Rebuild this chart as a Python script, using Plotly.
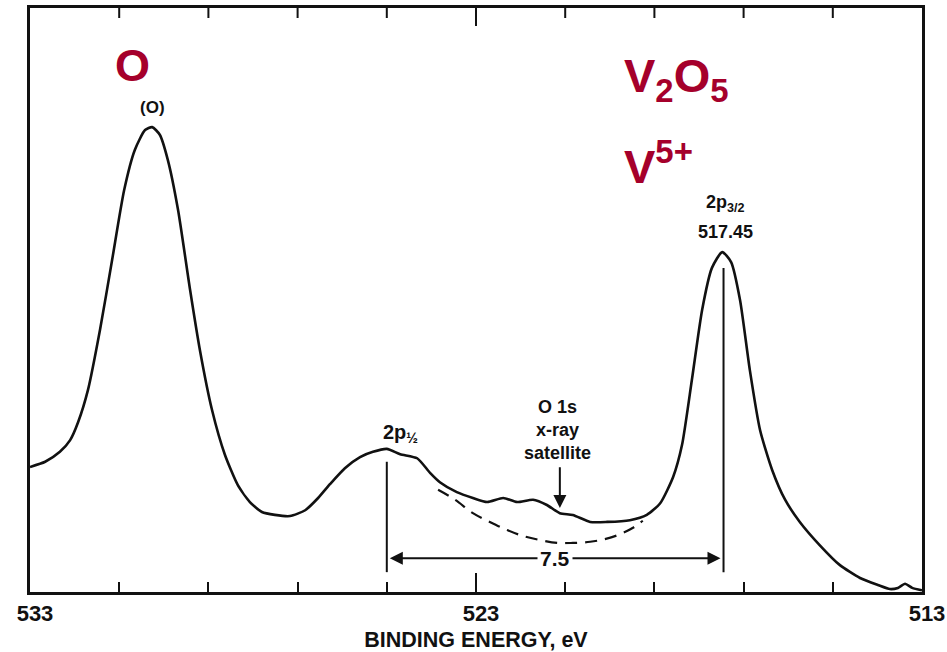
import plotly.graph_objects as go

# V 2p spectrum of V2O5 with the O 1s peak (binding energy in eV, intensity in arbitrary units)
energy = [533.00, 532.66, 532.33, 532.10, 531.92, 531.70, 531.43, 531.16, 530.89, 530.65,
          530.42, 530.26, 530.09, 529.91, 529.68, 529.41, 529.19, 528.92, 528.63, 528.34,
          528.07, 527.80, 527.51, 527.17, 526.83, 526.54, 526.27, 525.94, 525.60, 525.31,
          525.00, 524.70, 524.32, 524.03, 523.81, 523.43, 523.07, 522.75, 522.39, 522.08,
          521.72, 521.41, 521.12, 520.83, 520.44, 520.06, 519.55, 519.17, 518.87, 518.58,
          518.38, 518.16, 517.93, 517.71, 517.48, 517.28, 517.08, 516.86, 516.63, 516.36,
          516.07, 515.74, 515.29, 514.84, 514.39, 513.99, 513.72, 513.54, 513.38, 513.22,
          513.00]
intensity = [21.4, 22.3, 24.0, 26.0, 29.1, 34.6, 44.9, 56.8, 68.8, 75.7,
             79.1, 79.6, 78.3, 74.0, 65.4, 51.7, 41.4, 31.2, 23.5, 18.3,
             15.4, 13.7, 13.2, 13.0, 14.0, 16.1, 18.5, 21.2, 23.1, 24.0,
             24.5, 23.6, 22.9, 20.4, 18.8, 17.1, 16.1, 15.4, 16.1, 15.4,
             15.8, 14.9, 13.5, 13.2, 12.0, 12.0, 12.3, 13.2, 15.2, 19.7,
             25.2, 36.3, 48.3, 55.5, 58.2, 56.5, 50.0, 38.0, 27.7, 20.9,
             15.8, 12.0, 8.0, 4.6, 2.4, 1.2, 0.5, 0.7, 1.4, 0.7,
             0.3]

# background under the O 1s x-ray satellite (dashed)
bg_energy = [523.85, 523.47, 523.07, 522.69, 522.30, 521.95, 521.57, 521.18, 520.83,
             520.44, 520.09, 519.77, 519.48, 519.26]
bg_intensity = [17.5, 15.8, 13.5, 12.0, 10.6, 9.6, 8.9, 8.4, 8.4,
                8.6, 9.1, 9.9, 11.0, 12.2]

peak_2p12 = 525.00
peak_2p32 = 517.45
satellite = 521.12
o1s_peak = 530.26

tick_vals = [533, 523, 513]
tick_text = ["<b>533</b>", "<b>523</b>", "<b>513</b>"]
minor_tick_vals = [531, 529, 527, 525, 521, 519, 517, 515]
satellite_lines = ["O 1s", "x-ray", "satellite"]

INK = "#111111"
RED = "#A5002B"
FONT = "Liberation Sans, Arial, sans-serif"

W, H = 947, 652
MARGIN = dict(l=30, r=25, t=8, b=60)
plot_h = H - MARGIN["t"] - MARGIN["b"]
Y_TOP = 100.0
MAJOR_LEN, MINOR_LEN = 19, 10

fig = go.Figure()
fig.add_trace(go.Scatter(x=energy, y=intensity, mode="lines",
                         line=dict(color=INK, width=2.6, shape="spline", smoothing=0.6),
                         hoverinfo="skip"))
fig.add_trace(go.Scatter(x=bg_energy, y=bg_intensity, mode="lines",
                         line=dict(color=INK, width=2.2, dash="12px,8px", shape="spline"),
                         hoverinfo="skip"))

# tick marks hanging from the top edge of the frame
top_x, top_y = [], []
for v in tick_vals[1:-1]:
    top_x += [v, v, None]
    top_y += [Y_TOP, Y_TOP - (MAJOR_LEN - 1) * Y_TOP / plot_h, None]
for v in minor_tick_vals:
    top_x += [v, v, None]
    top_y += [Y_TOP, Y_TOP - MINOR_LEN * Y_TOP / plot_h, None]
fig.add_trace(go.Scatter(x=top_x, y=top_y, mode="lines", line=dict(color=INK, width=2),
                         hoverinfo="skip", cliponaxis=False))

# vertical markers at the two 2p peaks
fig.add_shape(type="line", x0=peak_2p12, x1=peak_2p12, y0=3.4, y1=22.3,
              line=dict(color=INK, width=2))
fig.add_shape(type="line", x0=peak_2p32, x1=peak_2p32, y0=3.4, y1=55.5,
              line=dict(color=INK, width=2))

# spin-orbit splitting dimension arrow
split = peak_2p12 - peak_2p32
mid = (peak_2p12 + peak_2p32) / 2
for head in [peak_2p12, peak_2p32]:
    fig.add_annotation(x=head, y=5.8, ax=mid, ay=5.8, xref="x", yref="y",
                       axref="x", ayref="y", text="", showarrow=True,
                       arrowhead=2, arrowsize=1.3, arrowwidth=2, arrowcolor=INK,
                       standoff=3)
fig.add_annotation(x=mid, y=5.8, text="<b>%.1f</b>" % split, showarrow=False,
                   bgcolor="white", font=dict(family=FONT, size=21, color=INK),
                   borderpad=2)

# satellite arrow and label
fig.add_annotation(x=satellite, y=14.4, ax=satellite, ay=21.6, xref="x", yref="y",
                   axref="x", ayref="y", text="", showarrow=True,
                   arrowhead=2, arrowsize=1.3, arrowwidth=2, arrowcolor=INK)
for line_text, y in zip(satellite_lines, [31.7, 27.7, 23.8]):
    fig.add_annotation(x=satellite + 0.05, y=y, showarrow=False, text="<b>%s</b>" % line_text,
                       font=dict(family=FONT, size=18, color=INK))

fig.add_annotation(x=524.70, y=27.2, showarrow=False,
                   text="<b>2p<sub>½</sub></b>", font=dict(family=FONT, size=20, color=INK))
fig.add_annotation(x=peak_2p32 - 0.05, y=66.6, showarrow=False,
                   text="<b>2p<sub>3/2</sub></b>", font=dict(family=FONT, size=18, color=INK))
fig.add_annotation(x=peak_2p32 - 0.05, y=61.6, showarrow=False,
                   text="<b>%.2f</b>" % peak_2p32, font=dict(family=FONT, size=18, color=INK))
fig.add_annotation(x=o1s_peak, y=82.9, showarrow=False,
                   text="<b>(O)</b>", font=dict(family=FONT, size=17, color=INK))

# species labels
fig.add_annotation(x=530.71, y=90.1, showarrow=False, text="<b>O</b>",
                   font=dict(family=FONT, size=45, color=RED))
fig.add_annotation(x=519.73, y=87.8, xanchor="left", showarrow=False,
                   text="<b>V<sub>2</sub>O<sub>5</sub></b>",
                   font=dict(family=FONT, size=47, color=RED))
fig.add_annotation(x=519.73, y=73.5, xanchor="left", showarrow=False,
                   text="<b>V<sup>5+</sup></b>",
                   font=dict(family=FONT, size=47, color=RED))

fig.update_layout(
    width=W, height=H, showlegend=False, margin=MARGIN,
    paper_bgcolor="white", plot_bgcolor="white",
    xaxis=dict(range=[533, 513], tickvals=tick_vals, ticktext=tick_text,
               ticks="inside", ticklen=MAJOR_LEN, tickwidth=2, tickcolor=INK,
               minor=dict(tickvals=minor_tick_vals, ticks="inside", ticklen=MINOR_LEN,
                          tickwidth=2, tickcolor=INK),
               showline=True, linewidth=3, linecolor=INK, mirror=True,
               showgrid=False, zeroline=False, ticklabelshift=-5, automargin=False,
               tickfont=dict(family=FONT, size=22, color=INK),
               title=dict(text="<b>BINDING ENERGY, eV</b>", standoff=7,
                          font=dict(family=FONT, size=21.5, color=INK))),
    yaxis=dict(range=[0, Y_TOP], showticklabels=False, ticks="",
               showline=True, linewidth=3, linecolor=INK, mirror=True,
               showgrid=False, zeroline=False, automargin=False),
)

fig.write_html("out.html")
